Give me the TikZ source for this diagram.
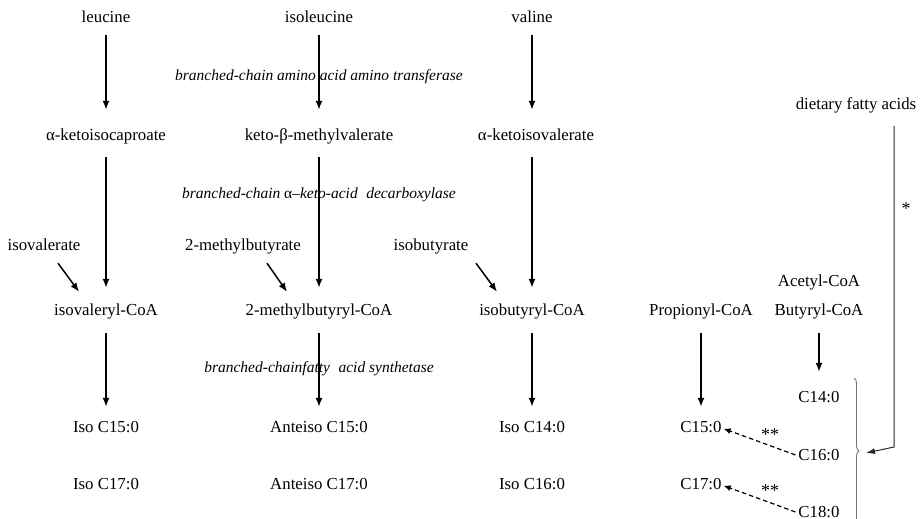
\documentclass[tikz,border=0pt]{standalone}
\usepackage{fontspec}
\setmainfont{Liberation Serif}
\usetikzlibrary{arrows.meta,decorations.pathreplacing}
\begin{document}
\begin{tikzpicture}[x=1pt,y=-1pt,
  every node/.style={font=\fontsize{16.8pt}{19pt}\selectfont, inner sep=0pt, text height=11pt, text depth=3pt},
  lab/.style={font=\fontsize{15.5pt}{18pt}\selectfont\itshape},
  arr/.style={-{Latex[length=9pt,width=7pt]}, line width=1.5pt},
  dasharr/.style={-{Latex[length=7pt,width=6pt]}, line width=1.2pt, dash pattern=on 4.5pt off 3pt, shorten <=3pt, shorten >=2pt},
  thinarr/.style={-{Latex[length=9pt,width=6pt]}, line width=1pt, black!85},
  stars/.style={font=\fontsize{18pt}{20pt}\selectfont}
]
\useasboundingbox (0,0) rectangle (921,519);

% row 1
\node (leu)  at (106,19) {leucine};
\node (ile)  at (319,19) {isoleucine};
\node (val)  at (532,19) {valine};
% row 2
\node (kic)  at (106,136) {α-ketoisocaproate};
\node (kmv)  at (319,136) {keto-β-methylvalerate};
\node (kiv)  at (536,136) {α-ketoisovalerate};
\node (dfa)  at (856,106) {dietary fatty acids};
% side substrates
\node (isov) at (44,246) {isovalerate};
\node (mbut) at (243,246) {2-methylbutyrate};
\node (ibut) at (431,246) {isobutyrate};
% row 3
\node (ivcoa) at (106,311) {isovaleryl-CoA};
\node (mbcoa) at (319,311) {2-methylbutyryl-CoA};
\node (ibcoa) at (532,311) {isobutyryl-CoA};
\node (pcoa)  at (701,311) {Propionyl-CoA};
\node (acoa)  at (819,282) {Acetyl-CoA};
\node (bcoa)  at (819,311) {Butyryl-CoA};
% row 4/5
\node (i15) at (106,428) {Iso C15:0};
\node (a15) at (319,428) {Anteiso C15:0};
\node (i14) at (532,428) {Iso C14:0};
\node (c15) at (701,428) {C15:0};
\node (i17) at (106,485) {Iso C17:0};
\node (a17) at (319,485) {Anteiso C17:0};
\node (i16) at (532,485) {Iso C16:0};
\node (c17) at (701,485) {C17:0};
\node (c14) at (819,398) {C14:0};
\node (c16) at (819,456) {C16:0};
\node (c18) at (819,513) {C18:0};

% enzyme labels
\node[lab] (e1) at (319,77) {branched-chain amino acid amino transferase};
\node[lab] (e2) at (319,194) {branched-chain \textup{α}–keto-acid\hspace{0.55em}decarboxylase};
\node[lab] (e3) at (319,368) {branched-chainfatty\hspace{0.55em}acid synthetase};

% row1 -> row2
\draw[arr, shorten <=9pt, shorten >=19pt] (leu) -- (kic.north -| leu);
\draw[arr, shorten <=9pt, shorten >=19pt] (ile) -- (kmv.north -| ile);
\draw[arr, shorten <=9pt, shorten >=19pt] (val) -- (kiv.north -| val);
% row2 -> row3
\draw[arr, shorten <=14pt, shorten >=16pt] (kic.south) -- (ivcoa.north);
\draw[arr, shorten <=14pt, shorten >=16pt] (kmv.south) -- (mbcoa.north);
\draw[arr, shorten <=14pt, shorten >=16pt] (kiv.south -| ibcoa) -- (ibcoa.north);
% side substrates
\draw[arr] ([xshift=14pt,yshift=-10pt]isov.south) -- ([xshift=-27pt,yshift=12pt]ivcoa.north);
\draw[arr] ([xshift=24pt,yshift=-10pt]mbut.south) -- ([xshift=-32pt,yshift=12pt]mbcoa.north);
\draw[arr] ([xshift=45pt,yshift=-10pt]ibut.south) -- ([xshift=-35pt,yshift=12pt]ibcoa.north);
% row3 -> row4
\draw[arr, shorten <=15pt, shorten >=14pt] (ivcoa.south) -- (i15.north);
\draw[arr, shorten <=15pt, shorten >=14pt] (mbcoa.south) -- (a15.north);
\draw[arr, shorten <=15pt, shorten >=14pt] (ibcoa.south) -- (i14.north);
\draw[arr, shorten <=15pt, shorten >=14pt] (pcoa.south) -- (c15.north);
\draw[arr, shorten <=15pt, shorten >=19pt] (bcoa.south) -- (c14.north);

% dashed conversions
\draw[dasharr] (c16.west) -- (c15.east);
\draw[dasharr] (c18.west) -- (c17.east);
\node[stars] (s1) at (770,436) {**};
\node[stars] (s2) at (770,492) {**};

% brace
\draw[black!55, line width=0.9pt, decorate, decoration={brace, amplitude=5pt}] (854,378) -- (854,524);
% dietary fatty acids arrow
\coordinate (dtop) at (894,126);
\coordinate (dcorner) at (894,447);
\coordinate (btip) at (866,453);
\draw[thinarr] (dtop) -- (dcorner) -- (btip);
\node[stars] (s0) at (906,210) {*};
\end{tikzpicture}
\end{document}
